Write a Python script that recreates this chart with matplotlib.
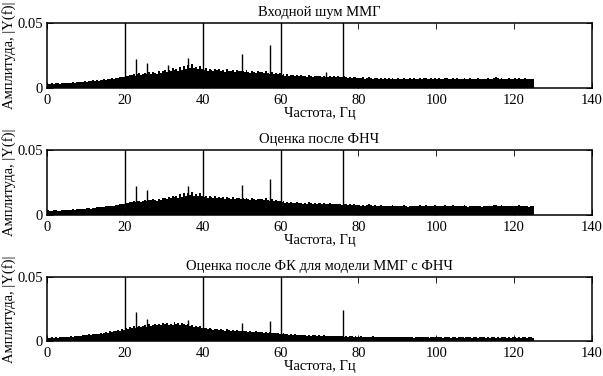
import numpy as np
import matplotlib
matplotlib.use("Agg")
import matplotlib.pyplot as plt

plt.rcParams['font.family'] = ['Liberation Serif', 'DejaVu Serif']

# frequency grid step 0.5 Hz, 0 .. 125 Hz
freq_step = 0.5
# noise spectrum amplitudes in units of 1e-4
noise_in = [
    34,30,36,33,38,35,32,37,40,36, 39,42,38,45,41,44,47,43,48,52,
    50,55,51,58,54,60,57,63,59,66, 64,70,67,74,71,78,75,82,88,85,
    95,90,102,98,110,96,105,112,100,108, 115,104,120,110,125,116,108,128,119,130,
    135,122,142,128,155,137,145,132,162,140, 170,148,178,155,182,152,160,145,172,150,
    140,152,132,148,138,128,150,135,145,130, 138,125,145,132,128,140,122,136,130,127,
    132,120,135,126,118,130,124,115,128,121, 125,112,130,118,110,122,108,116,104,112,
    100,108,96,104,92,100,97,90,102,94, 98,90,95,88,100,92,86,96,89,93,
    92,85,94,88,83,95,87,90,84,91, 88,82,90,85,80,87,78,84,81,76,
    80,75,82,73,78,84,76,71,79,74, 72,78,70,76,68,74,71,77,69,73,
    75,69,73,78,70,66,74,71,76,68, 72,77,70,74,80,71,68,75,73,78,
    70,76,72,68,79,74,69,73,77,71, 75,68,73,70,76,72,67,74,70,73,
    69,74,71,66,73,70,75,68,72,78, 82,74,70,76,71,68,73,75,69,72,
    74,70,76,68,72,75,71,67,73,70,
]
noise_lpf = [
    36,31,34,35,37,33,34,38,39,37, 40,41,39,44,42,45,46,44,49,50,
    52,54,50,57,55,59,58,62,60,65, 66,69,68,73,72,77,76,81,86,84,
    96,92,100,97,108,98,104,110,101,107, 113,106,118,112,122,114,110,126,118,128,
    133,124,140,130,150,135,143,134,160,141, 166,150,170,154,176,150,158,147,168,148,
    138,150,134,146,136,130,147,133,142,128, 136,126,142,130,126,138,124,134,128,125,
    130,121,133,124,119,128,122,116,126,120, 122,113,127,116,111,120,107,114,105,110,
    98,105,95,102,90,98,95,89,99,92, 95,88,93,86,97,90,85,93,87,90,
    89,83,91,86,81,92,85,87,82,88, 85,80,87,82,78,84,76,81,79,74,
    77,73,79,71,75,81,74,69,76,72, 70,75,68,73,66,72,69,74,67,71,
    72,67,71,75,68,64,72,69,73,66, 70,74,68,72,77,69,66,73,71,75,
    68,73,70,66,76,72,67,71,74,69, 72,66,71,68,74,70,65,72,68,71,
    67,72,69,64,71,68,73,66,70,75, 79,72,68,74,69,66,71,73,67,70,
    72,68,74,66,70,73,69,65,71,68,
]
noise_kf = [
    26,24,28,25,30,27,29,32,28,33, 35,31,38,34,40,37,42,39,45,43,
    48,52,47,55,51,58,54,62,57,65, 70,66,75,72,80,77,85,82,90,88,
    105,95,110,100,115,104,112,120,108,118, 125,112,130,118,128,135,122,132,126,138,
    130,142,125,136,128,145,132,138,126,140, 135,122,130,118,125,112,120,108,115,102,
    98,105,92,100,95,88,96,90,85,92, 88,82,90,84,80,86,78,83,80,76,
    82,76,79,72,78,74,70,76,68,73, 70,66,72,64,68,62,66,60,64,58,
    55,60,52,56,50,54,48,52,46,50, 47,44,49,42,46,40,45,43,41,44,
    42,39,44,40,38,42,37,41,39,36, 40,37,35,39,34,38,36,33,37,35,
    34,37,32,35,33,30,34,36,31,33, 32,35,30,33,31,34,29,32,30,33,
    31,28,33,30,34,29,32,30,27,31, 30,33,28,31,29,32,27,30,33,29,
    28,31,29,26,30,28,32,27,29,30, 27,30,28,31,26,29,28,30,27,29,
    29,26,30,28,31,27,29,26,30,28, 27,29,26,30,28,31,27,29,26,28,
    29,27,30,26,28,29,27,30,28,26,
]

# narrow spectral peaks (Hz, amplitude)
peak_f_in = [20, 22.8, 25.6, 31.2, 36.1, 40, 50.2, 57.4, 60, 71.6, 76]
peak_a_in = [0.08, 0.022, 0.019, 0.018, 0.023, 0.08, 0.026, 0.033, 0.08, 0.012, 0.08]
peak_f_lpf = [20, 22.8, 25.6, 36.1, 40, 50.2, 57.4, 60, 76]
peak_a_lpf = [0.08, 0.022, 0.019, 0.022, 0.08, 0.023, 0.028, 0.08, 0.08]
peak_f_kf = [20, 22.8, 25.6, 36.1, 40, 50.2, 57.4, 60, 76]
peak_a_kf = [0.08, 0.0225, 0.017, 0.0166, 0.08, 0.014, 0.0158, 0.08, 0.0245]

titles = ["Входной шум ММГ", "Оценка после ФНЧ", "Оценка после ФК для модели ММГ с ФНЧ"]
xlabel = "Частота, Гц"
ylabel = "Амплитуда, |Y(f)|"
xticks = [0, 20, 40, 60, 80, 100, 120, 140]
yticks = [0, 0.05]
yticklabels = ["0", "0.05"]

W, H = 603, 376
fig = plt.figure(figsize=(W / 100, H / 100), dpi=100)
fig.patch.set_facecolor('white')

panels = [
    (23, 88, noise_in, peak_f_in, peak_a_in),
    (150, 215, noise_lpf, peak_f_lpf, peak_a_lpf),
    (277, 341, noise_kf, peak_f_kf, peak_a_kf),
]
left_px, right_px = 47, 592
fs = 10.5
for (top, bot, noise, pf, pa), title in zip(panels, titles):
    ax = fig.add_axes([left_px / W, 1 - bot / H, (right_px - left_px) / W, (bot - top) / H])
    vals = np.asarray(noise, dtype=float) * 1e-4
    f = np.arange(len(vals)) * freq_step
    ax.bar(f, vals, width=freq_step, align='edge', color='black', linewidth=0)
    ax.vlines(pf, 0, pa, color='black', linewidth=1.0)
    ax.set_xlim(0, 140)
    ax.set_ylim(0, 0.05)
    ax.set_xticks(xticks)
    ax.set_yticks(yticks)
    ax.set_yticklabels(yticklabels)
    ax.tick_params(axis='both', direction='in', length=4, width=0.6, labelsize=fs, pad=3)
    ax.tick_params(axis='x', top=True, pad=4)
    ax.tick_params(axis='y', right=True)
    for sp in ax.spines.values():
        sp.set_linewidth(1.1)
    ax.set_title(title, fontsize=fs, pad=5)
    ax.set_xlabel(xlabel, fontsize=fs, labelpad=0)
    ax.set_ylabel(ylabel, fontsize=fs, labelpad=1)

fig.savefig("out.png", dpi=100)
